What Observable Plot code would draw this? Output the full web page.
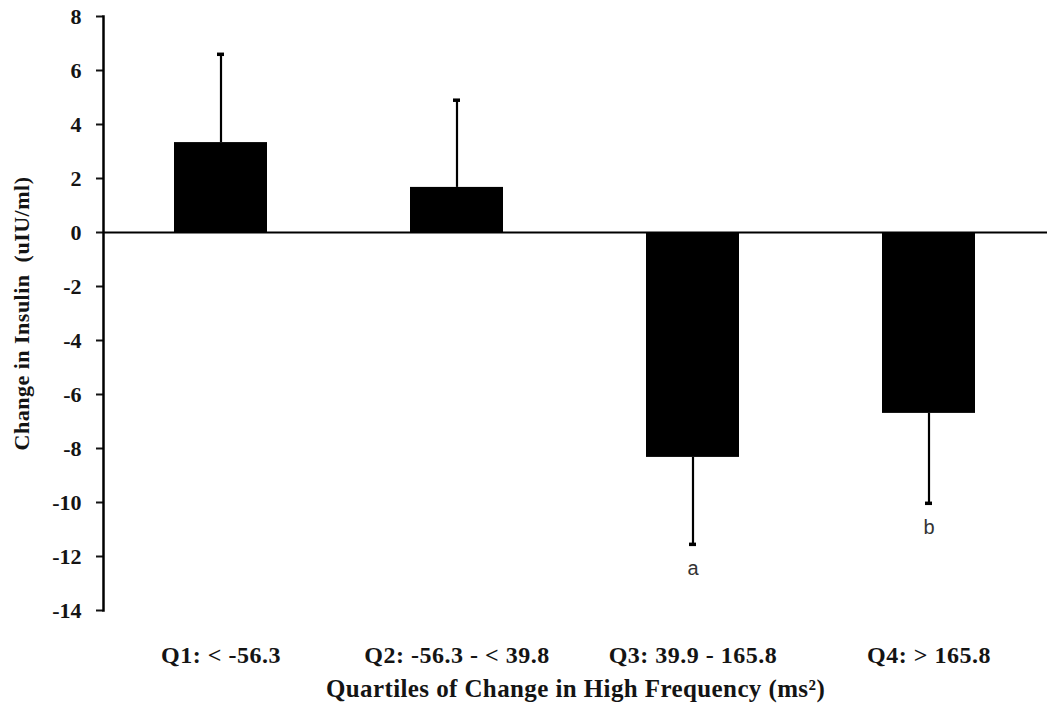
<!DOCTYPE html>
<html>
<head>
<meta charset="utf-8">
<script src="https://cdn.jsdelivr.net/npm/d3@7"></script>
<script src="https://cdn.jsdelivr.net/npm/@observablehq/plot@0.6"></script>
<style>
  html, body { margin: 0; padding: 0; background: #fff; }
  svg { display: block; }
</style>
</head>
<body>
<div id="chart"></div>
<script>
// Data
const quartiles = ["Q1: < -56.3", "Q2: -56.3 - < 39.8", "Q3: 39.9 - 165.8", "Q4: > 165.8"];
const means = [3.33, 1.67, -8.33, -6.7];
const errorEnds = [6.6, 4.9, -11.55, -10.03];
const sigLetters = ["", "", "a", "b"];
const yTicks = [-14, -12, -10, -8, -6, -4, -2, 0, 2, 4, 6, 8];

const data = quartiles.map((q, i) => ({q, mean: means[i], err: errorEnds[i], letter: sigLetters[i]}));
const lettered = data.filter(d => d.letter);

const serif = "'Liberation Serif', 'Times New Roman', serif";

const plot = Plot.plot({
  width: 1050,
  height: 721,
  marginLeft: 103,
  marginRight: 3,
  marginTop: 16,
  marginBottom: 111,
  style: {fontFamily: serif, fontWeight: "bold", color: "#141414", background: "#fff"},
  x: {domain: quartiles, paddingInner: 0.605, paddingOuter: 0.3025, align: 0.5},
  y: {domain: [-14, 8]},
  marks: [
    Plot.barY(data, {x: "q", y: "mean", fill: "black"}),
    Plot.ruleX(data, {x: "q", y1: "mean", y2: "err", stroke: "black", strokeWidth: 2.2}),
    Plot.tickY(data, {x: "q", y: "err", stroke: "black", strokeWidth: 3.5, insetLeft: 43, insetRight: 43}),
    Plot.ruleY([0], {stroke: "black", strokeWidth: 2}),
    Plot.text(lettered, {x: "q", y: "err", text: "letter", dy: 24, fontFamily: "'Liberation Sans', Arial, sans-serif", fontWeight: "normal", fontSize: 20, fill: "#333"}),
    Plot.axisY({ticks: yTicks, tickFormat: d => d, tickSize: 7, tickPadding: 15, strokeWidth: 2, fontSize: 22, fontWeight: "bold",
      label: "Change in Insulin\u00a0 (uIU/ml)", labelAnchor: "center", labelOffset: 90, labelArrow: "none"}),
    Plot.axisX({tickSize: 0, tickPadding: 35, fontSize: 24, fontWeight: "bold",
      label: "Quartiles of Change in High Frequency (ms²)", labelAnchor: "center", labelOffset: 86, labelArrow: "none"}),
    Plot.frame({anchor: "left", stroke: "black", strokeWidth: 2.5})
  ]
});
// slight tracking on text to mimic the reference's wide serif
d3.select(plot).selectAll("g[aria-label='x-axis tick label'] text, g[aria-label='y-axis label'] text")
  .style("letter-spacing", "0.5px");
d3.select(plot).selectAll("g[aria-label='x-axis label'] text")
  .style("font-size", "25px").style("letter-spacing", "0.4px");
document.getElementById("chart").appendChild(plot);
</script>
</body>
</html>
